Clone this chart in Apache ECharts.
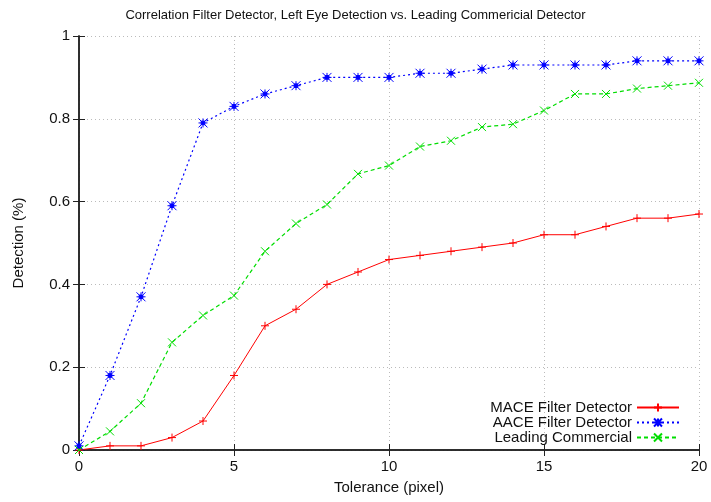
<!DOCTYPE html>
<html>
<head>
<meta charset="utf-8">
<script src="https://cdn.jsdelivr.net/npm/echarts@6/dist/echarts.min.js"></script>
<style>
  html, body { margin: 0; padding: 0; background: #fff; }
  #chart { width: 711px; height: 502px; }
</style>
</head>
<body>
<div id="chart"></div>
<script>
// tolerance in pixels, 0..20
var tolerance = [0, 1, 2, 3, 4, 5, 6, 7, 8, 9, 10, 11, 12, 13, 14, 15, 16, 17, 18, 19, 20];
// detection rates
var maceData = [0, 0.01, 0.01, 0.03, 0.07, 0.18, 0.30, 0.34, 0.40, 0.43, 0.46, 0.47, 0.48, 0.49, 0.50, 0.52, 0.52, 0.54, 0.56, 0.56, 0.57];
var aaceData = [0.01, 0.18, 0.37, 0.59, 0.79, 0.83, 0.86, 0.88, 0.90, 0.90, 0.90, 0.91, 0.91, 0.92, 0.93, 0.93, 0.93, 0.93, 0.94, 0.94, 0.94];
var commData = [0, 0.045, 0.113, 0.26, 0.325, 0.373, 0.48, 0.547, 0.593, 0.667, 0.687, 0.733, 0.747, 0.78, 0.787, 0.82, 0.86, 0.86, 0.873, 0.88, 0.887];
var seriesNames = ['MACE Filter Detector', 'AACE Filter Detector', 'Leading Commercial'];

function pairs(ys) {
    return tolerance.map(function (x, i) { return [x, ys[i]]; });
}

var FONT = 'Liberation Sans';
var plusSym = 'path://M0,5L10,5M5,0L5,10';
var starSym = 'path://M3,3L7,3L7,7L3,7Z M0,0L10,10M10,0L0,10M5,0L5,10M0,5L10,5';
var crossSym = 'path://M0,0L10,10M10,0L0,10';

var chart = echarts.init(document.getElementById('chart'));

var axisLine = { show: true, lineStyle: { color: '#222', width: 1.5 } };
var axisTick = { show: true, inside: true, length: 6, lineStyle: { color: '#222' } };
var gridLine = { show: true, lineStyle: { color: '#bbb', type: [1, 3], width: 1 } };
var labelStyle = { fontFamily: FONT, fontSize: 15, color: '#111', margin: 9 };
var nameStyle = { fontFamily: FONT, fontSize: 15, color: '#111' };

var option = {
    animation: false,
    title: {
        text: 'Correlation Filter Detector, Left Eye Detection vs. Leading Commericial Detector',
        left: 'center',
        top: 4,
        textStyle: { fontFamily: FONT, fontSize: 13, fontWeight: 'normal', color: '#111' }
    },
    grid: { left: 79, right: 12, top: 36, bottom: 52 },
    legend: {
        data: seriesNames,
        orient: 'vertical',
        right: 31,
        bottom: 57,
        padding: 0,
        align: 'right',
        itemWidth: 42,
        itemHeight: 10,
        itemGap: 0,
        textStyle: { fontFamily: FONT, fontSize: 15, color: '#111', lineHeight: 15 }
    },
    xAxis: [{
        type: 'value', min: 0, max: 20, interval: 5,
        name: 'Tolerance (pixel)', nameLocation: 'middle', nameGap: 30,
        nameTextStyle: nameStyle,
        axisLine: axisLine, axisTick: axisTick,
        axisLabel: labelStyle,
        splitLine: gridLine
    }, {
        type: 'value', min: 0, max: 20, interval: 5, position: 'top',
        axisLine: axisLine, axisTick: axisTick,
        axisLabel: { show: false }, splitLine: { show: false }
    }],
    yAxis: [{
        type: 'value', min: 0, max: 1, interval: 0.2,
        name: 'Detection (%)', nameLocation: 'middle', nameGap: 53,
        nameTextStyle: nameStyle,
        axisLine: axisLine, axisTick: axisTick,
        axisLabel: labelStyle,
        splitLine: gridLine
    }, {
        type: 'value', min: 0, max: 1, interval: 0.2, position: 'right',
        axisLine: axisLine, axisTick: axisTick,
        axisLabel: { show: false }, splitLine: { show: false }
    }],
    series: [
        {
            name: seriesNames[0], type: 'line', data: pairs(maceData),
            symbol: plusSym, symbolSize: 8,
            itemStyle: { color: '#ff0000', borderColor: '#ff0000', borderWidth: 1 },
            lineStyle: { color: '#ff0000', width: 1 }
        },
        {
            name: seriesNames[1], type: 'line', data: pairs(aaceData),
            symbol: starSym, symbolSize: 9,
            itemStyle: { color: '#0000ff', borderColor: '#0000ff', borderWidth: 1 },
            lineStyle: { color: '#0000ff', width: 1.2, type: [2, 3] }
        },
        {
            name: seriesNames[2], type: 'line', data: pairs(commData),
            symbol: crossSym, symbolSize: 8,
            itemStyle: { color: '#00dd00', borderColor: '#00dd00', borderWidth: 1 },
            lineStyle: { color: '#00dd00', width: 1.2, type: [4, 3] }
        }
    ]
};

chart.setOption(option);
window.addEventListener('resize', function () {
    chart.resize();
});
</script>
</body>
</html>
